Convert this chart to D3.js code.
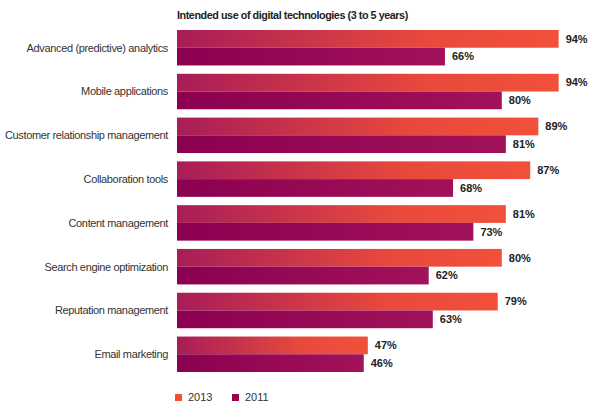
<!DOCTYPE html>
<html><head><meta charset="utf-8">
<script src="https://cdn.jsdelivr.net/npm/d3@7"></script>
<style>body{margin:0;background:#fff}svg{display:block}</style>
</head><body>
<svg id="c" width="600" height="412"></svg>
<script>
const categories = ["Advanced (predictive) analytics","Mobile applications","Customer relationship management","Collaboration tools","Content management","Search engine optimization","Reputation management","Email marketing"];
const values2013 = [94,94,89,87,81,80,79,47];
const values2011 = [66,80,81,68,73,62,63,46];
const seriesNames = ["2013","2011"];
const title = "Intended use of digital technologies (3 to 5 years)";

const svg = d3.select("#c");
const font = "Arial, 'Liberation Sans', sans-serif";
const defs = svg.append("defs");
const g13 = defs.append("linearGradient").attr("id","g13");
g13.append("stop").attr("offset","0").attr("stop-color","#a81d58");
g13.append("stop").attr("offset","0.65").attr("stop-color","#e8493c");
g13.append("stop").attr("offset","1").attr("stop-color","#f2503a");
const g11 = defs.append("linearGradient").attr("id","g11");
g11.append("stop").attr("offset","0").attr("stop-color","#8b0050");
g11.append("stop").attr("offset","1").attr("stop-color","#a2125a");

const x = d3.scaleLinear().domain([0,100]).range([177,583]);
const y = d3.scaleBand().domain(categories).range([30, 372]).paddingInner(0.19).paddingOuter(0);
const sub = d3.scaleBand().domain(seriesNames).range([0, y.bandwidth()]);

svg.append("text").attr("x",177).attr("y",19).attr("font-family",font).attr("font-size",10.8)
  .attr("font-weight","bold").attr("fill","#222").attr("letter-spacing","-0.45").text(title);

const grp = svg.selectAll("g.grp").data(categories).join("g").attr("class","grp")
  .attr("transform", d => `translate(0,${y(d)})`);

const series = [values2013, values2011];
seriesNames.forEach((s, si) => {
  grp.append("rect").attr("x", x(0)).attr("y", sub(s))
    .attr("width", (d,i) => x(series[si][i]) - x(0)).attr("height", sub.bandwidth())
    .attr("fill", si===0 ? "url(#g13)" : "url(#g11)");
  grp.append("text").attr("x", (d,i) => x(series[si][i]) + 7).attr("y", sub(s) + sub.bandwidth()/2)
    .attr("dy","0.35em").attr("font-family",font).attr("font-size",11).attr("font-weight","bold")
    .attr("fill","#222").text((d,i) => series[si][i] + "%");
});

grp.append("text").attr("x",168).attr("y", y.bandwidth()/2).attr("dy","0.35em")
  .attr("text-anchor","end").attr("font-family",font).attr("font-size",11).attr("fill","#333")
  .attr("letter-spacing","-0.35").text(d => d);

const leg = svg.append("g");
const legX = [175, 232];
const legC = ["#f04e37","#96004f"];
seriesNames.forEach((s,i) => {
  leg.append("rect").attr("x",legX[i]).attr("y",394).attr("width",7).attr("height",7).attr("fill",legC[i]);
  leg.append("text").attr("x",legX[i]+13).attr("y",401).attr("font-family",font).attr("font-size",11)
    .attr("fill","#333").text(s);
});
</script>
</body></html>
